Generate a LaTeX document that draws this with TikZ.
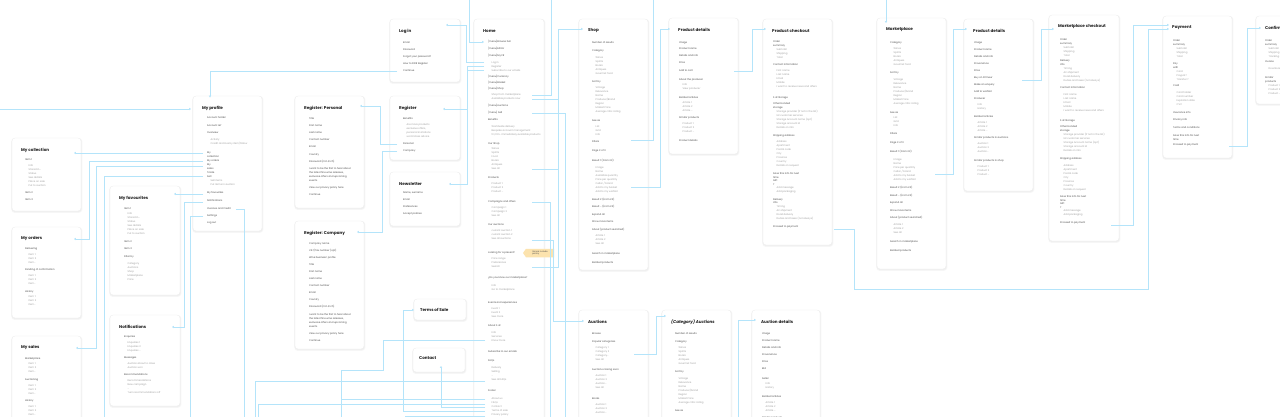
\documentclass[tikz,border=0pt]{standalone}
\usepackage{fontspec}
\setmainfont{Poppins}
\usetikzlibrary{arrows.meta,shapes.symbols}
\definecolor{cline}{HTML}{B4E4FA}
\definecolor{notey}{HTML}{FCE3AE}
\tikzset{
  cardbox/.style={draw=black!7, fill=white, rounded corners=3pt, line width=0.3pt, inner sep=0pt, outer sep=0pt},
  ttl/.style={anchor=west, inner sep=0pt, font=\fontsize{4.1}{5}\selectfont\bfseries, text=black!88},
  itma/.style={anchor=west, inner sep=0pt, font=\fontsize{2.45}{3}\selectfont, text=black!72},
  itmb/.style={itma, xshift=3.5pt, text=black!38},
  conn/.style={draw=cline, line width=0.7pt, -{Triangle[length=1.9pt,width=2.1pt]}},
  connplain/.style={draw=cline, line width=0.7pt},
  notebox/.style={fill=notey, shape=signal, signal to=west, signal pointer angle=110, minimum width=31pt, minimum height=8.5pt, inner sep=0.6pt, align=left, font=\fontsize{2.1}{2.5}\selectfont, text=black!70}
}
\newcommand\cardbox[5]{%
  \fill[black!3, rounded corners=3.5pt] (#2-0.7,#3+0.1) rectangle (#4+1.3,#5+1.9);
  \fill[black!6, rounded corners=3pt] (#2-0.3,#3+0.4) rectangle (#4+0.7,#5+1.0);
  \node[cardbox, anchor=north west, minimum width={(#4-#2)*1pt}, minimum height={(#5-#3)*1pt}] (#1) at (#2,#3) {};}
\newcommand\card[6]{\cardbox{#1}{#2}{#3}{#4}{#5}\node[ttl] (#1T) at (#2+9,#3+12) {#6};}
\newcommand\items[3]{\foreach \k/\yy/\t in {#3}{\node[itm\k] (#1-\yy) at (#2,\yy) {\t};}}
\begin{document}
\begin{tikzpicture}[x=1pt,y=-1pt]
\fill[white] (0,0) rectangle (1280,417);
\useasboundingbox (0,0) rectangle (1280,417);
\clip (0,0) rectangle (1280,417);

% ---------------- cards ----------------
\card{login}{390}{19}{460}{82}{Log in}
\items{login}{403}{a/43/Email, a/50/Password, a/57/Forgot your password?, a/64/How to FWR Register, a/71/Continue}

\card{home}{474}{19}{544}{440}{Home}
\items{home}{488}{a/42/{[menu]Browse bar}, a/49/{[menu]Editor}, a/56/{[menu]My FR}, b/62.5/Log in, b/66.5/Register, b/70.5/Subscribe to our emails,
 a/77/{[menu]Currency}, a/83/{[menu]Basket}, a/89/{[menu]Shop}, b/95/Shop from marketplace, b/99/Available products now,
 a/106/{[menu]Auctions}, a/113/{[menu] Sell}, a/120/Benefits, b/127/Worldwide delivery, b/131/Bespoke account management, b/135/{10,000+ immediately available products},
 a/144/Our Shop, b/149/Wines, b/153/Spirits, b/157/Food, b/161/Books, b/165/Antiques, b/169/See all,
 a/178/Products, b/184/Product 1, b/188/Product 2, b/192/Product \ldots,
 a/202/Campaigns and offers, b/208/Campaign 1, b/212/Campaign 2, b/216/See all,
 a/225/Our auctions, b/231/current auction 1, b/235/current auction 2, b/239/See all auctions,
 a/253/Looking for a present?, b/259/Price range, b/263/Preferences, b/267/Search,
 a/278/¿Do you know our marketplace?, b/286/Info, b/290/Go to marketplace,
 a/303/Events and experiences, b/309/Event 1, b/313/Event 2, b/317/See more,
 a/326/About F+R, b/333/Info, b/337/Services, b/341/Know more,
 a/352/Subscribe to our emails, a/361/FAQs, b/368/Delivery, b/372/Selling, b/376/\ldots, b/380/See all FAQs,
 a/391/Footer, b/399/About us, b/403/FAQs, b/407/Contact, b/411/Terms of sale, b/415/Privacy policy}
\node[notebox] (note) at (540,253) {Gonna include\\pantry};

\card{shop}{579}{19}{648}{270}{Shop}
\items{shop}{592}{a/43/Number of results, a/51/Category, b/58/Wines, b/62/Spirits, b/66/Books, b/70/Antiques, b/74/Gourmet food,
 a/82/Sort by, b/88/Vintage, b/92/Relevance, b/96/Name, b/100/{Producer/Brand}, b/104/Region, b/108/Market Price, b/112/Average critic rating,
 a/121/See as, b/127/List, b/131/Grid, b/135/Info, a/142/Filters, a/151/Page X of X,
 a/161/Result 1 (From £X), b/168/Image, b/172/Name, b/176/Available quantity, b/180/Price per quantity, b/184/{Cellar / brand}, b/188/Add to my basket, b/192/Add to my wishlist,
 a/200/Result 2 (From £X), a/207/Result \ldots{} (From £X), a/215/Expand all, a/222/Show more items,
 a/230/About (product searched), b/236/Article 1, b/240/Article 2, b/244/See all,
 a/254/Search in marketplace, a/263/Related products}

\card{pdone}{669}{18}{738}{154}{Product details}
\items{pdone}{679}{a/43/Image, a/49/Product name, a/56/Details and info, a/63/Price, a/71/Add to cart,
 a/80/About the producer, b/85/Info, b/89/View producer, a/98/Related articles, b/103/Article 1, b/107/Article 2, b/111/Article \ldots,
 a/118/Similar products, b/124/Product 1, b/128/Product 2, b/132/Product \ldots, a/141/Product details}

\card{pco}{763}{19}{832}{245}{Product checkout}
\items{pco}{773}{a/42/Order, a/46/summary, b/49.5/Subtotal, b/53.5/Shipping, b/57.5/Total,
 a/65/Contact information, b/71/First name, b/75/Last name, b/79/Email, b/83/Mobile, b/87/I want to receive news and offers,
 a/98/F+R Storage, a/104/Other bonded, a/108/storage, b/111.5/Storage provider (if not in the list), b/115.5/UK customer services, b/119.5/Storage Account name (opt), b/123.5/Storage account id, b/127.5/Details on info,
 a/136/Shipping address, b/142/Address, b/146/Apartment, b/150/Postal code, b/154/City, b/158/Province, b/162/Country, b/166/Details on request,
 a/174/Save this info for next, a/177.5/time, a/181/Gift, a/184.5/?, b/188/Add message, b/192/Add packaging,
 a/199.5/Delivery, a/203/info, b/206.5/Timing, b/210.5/Air shipment, b/214.5/Road delivery, b/218.5/Duties and taxes (not always),
 a/227/Proceed to payment}

\card{mkt}{877}{18}{946}{269}{Marketplace}
\items{mkt}{890}{a/43/Category, b/49/Wines, b/53/Spirits, b/57/Books, b/61/Antiques, b/65/Gourmet food,
 a/73/Sort by, b/80/Vintage, b/84/Relevance, b/88/Name, b/92/{Producer/brand}, b/96/Region, b/100/Market Price, b/104/Average critic rating,
 a/113/See as, b/118/List, b/122/Grid, b/126/Info, a/134/Filters, a/143/Page X of X,
 a/152/Result 1 (From £X), b/160/Image, b/164/Name, b/168/Price per quantity, b/172/{Cellar / brand}, b/176/Add to my basket, b/180/Add to my wishlist,
 a/188/Result 2 (From £X), a/196/Result \ldots{} (From £X), a/203/Expand all, a/211/Show more items,
 a/218/About (product searched), b/225/Article 1, b/229/Article 2, b/233/See all,
 a/242/Search in marketplace, a/251/Related products}

\card{pdtwo}{964}{19}{1033}{191}{Product details}
\items{pdtwo}{974}{a/43/Image, a/50/Product name, a/57/Details and info, a/64/Provenance, a/71/Price, a/78/Buy on Primeur, a/85/Make an enquiry, a/92/Add to wishlist,
 a/99/Producer, b/105/Info, b/109/History, a/117/Related articles, b/123/Article 1, b/127/Article 2, b/131/Article \ldots,
 a/138/Similar products in auctions, b/144/Auction 1, b/148/Auction 2, b/152/Auction\ldots,
 a/161/Similar products in shop, b/167/Product 1, b/171/Product 2, b/175/Product \ldots}

\card{mco}{1049}{15}{1119}{241}{Marketplace checkout}
\items{mco}{1060}{a/40/Order, a/44/summary, b/47.5/Subtotal, b/51.5/Shipping, b/55.5/Total,
 a/61/Delivery, a/65/info, b/68.5/Timing, b/72.5/Air shipment, b/76.5/Road delivery, b/80.5/Duties and taxes (not always),
 a/88/Contact information, b/95/First name, b/99/Last name, b/103/Email, b/107/Mobile, b/111/I want to receive news and offers,
 a/121/F+R Storage, a/127/Other bonded, a/131/storage, b/134.5/Storage provider (if not in the list), b/138.5/UK customer services, b/142.5/Storage Account name (opt), b/146.5/Storage account id, b/150.5/Details on info,
 a/159/Shipping address, b/166/Address, b/170/Apartment, b/174/Postal code, b/178/City, b/182/Province, b/186/Country, b/190/Details on request,
 a/197/Save this info for next, a/200.5/time, a/204/Gift, a/207.5/?, b/211/Add message, b/215/Add packaging,
 a/223/Proceed to payment}

\card{pay}{1163}{16}{1232}{158}{Payment}
\items{pay}{1173}{a/41/Order, a/45/summary, b/48.5/Subtotal, b/52.5/Shipping, b/56.5/Total,
 a/64/Pay, a/68/with, b/71.5/Card, b/75.5/Paypal ?, b/79.5/Transfer ?,
 a/86/Card, b/93/Card holder, b/97/Card number, b/101/Expiration date, b/105/CVC,
 a/113/Insurance info, a/120/Privacy info, a/128/Terms and conditions, a/136/Save this info for next, a/140/time, a/145/Proceed to payment}

\card{conf}{1256}{16}{1330}{104}{Confirmation}
\items{conf}{1265}{a/41/Order, a/45/summary, b/48.5/Subtotal, b/52.5/Shipping address, b/56.5/Tracking number,
 a/62/Invoice, b/69/Download, a/78/Similar, a/82/products, b/85.5/Product 1, b/89.5/Product 2, b/93.5/Product \ldots}

\card{auc}{579}{310}{648}{440}{Auctions}
\items{auc}{592}{a/334/Browse, a/342/Popular categories, b/348/Category 1, b/352/Category 2, b/356/Category\ldots, b/360/See all,
 a/370/Auctions closing soon, b/376/Auction 1, b/380/Auction 2, b/384/Auction\ldots, b/388/See all,
 a/399/Books, b/405/Auction 1, b/409/Auction 2, b/413/Auction\ldots}

\card{cauc}{662}{310}{731}{440}{\itshape (Category) Auctions}
\items{cauc}{675}{a/334/Number of results, a/342/Category, b/348/Wines, b/352/Spirits, b/356/Books, b/360/Antiques, b/364/Gourmet food,
 a/372/Sort by, b/379/Vintage, b/383/Relevance, b/387/Name, b/391/{Producer/brand}, b/395/Region, b/399/Market Price, b/403/Average critic rating,
 a/411/See as}

\card{aucd}{752}{310}{820}{440}{Auction details}
\items{aucd}{762}{a/334/Image, a/341/Product name, a/348/Details and info, a/355/Provenance, a/362/Price, a/369/Bid,
 a/379/Seller, b/384/Info, b/388/History, a/397/Related articles, b/403/Article 1, b/407/Article 2, b/411/Article \ldots, a/418/Similar products}

\card{prof}{193}{96}{262}{231}{My profile}
\items{prof}{207}{a/118/Account holder, a/126/Account ref, a/133/Overview, b/140/Activity, b/144/{Credit and loss by item/follow},
 a/153/My, a/157/collection, a/161/My orders, a/165/My, a/169/sales, a/173/Trade, a/176.5/Sell, b/181/Sell items, b/185/Put items in auction,
 a/193/My favourites, a/201/Notifications, a/209/Invoices and Credit, a/216/Settings, a/223/Log out}

\card{coll}{12}{138}{81}{211}{My collection}
\items{coll}{25}{a/160/Item 1, b/166/Info, b/170/Stored in\ldots, b/174/Status, b/178/See details, b/182/Place on sale, b/186/Put to auction, a/193/Item 2, a/200/Item 3}

\card{fav}{110}{186}{180}{295}{My favourites}
\items{fav}{124}{a/209/Item 1, b/214/Info, b/218/Stored in\ldots, b/222/Status, b/226/See details, b/230/Place on sale, b/234/Put to auction,
 a/242/Item 2, a/249/Item 3, a/257/Filter by, b/264/Category, b/268/Auctions, b/272/Shop, b/276/Marketplace, b/280/Price}

\card{ord}{12}{227}{81}{318}{My orders}
\items{ord}{25}{a/249/Delivering, b/255/Item 1, b/259/Item 2, b/263/Item\ldots, a/270/Pending of confirmation, b/276/Item 1, b/280/Item 2, b/284/Item\ldots,
 a/292/History, b/297/Item 1, b/301/Item 2, b/305/Item\ldots}

\card{sal}{12}{336}{81}{440}{My sales}
\items{sal}{25}{a/359/Marketplace, b/364/Item 1, b/368/Item 2, b/372/Item\ldots, a/380/Auctioning, b/386/Item 1, b/390/Item 2, b/394/Item\ldots,
 a/401/History, b/407/Item 1, b/411/Item 2, b/415/Item\ldots}

\card{noti}{110}{315}{180}{406}{Notifications}
\items{noti}{124}{a/337/Enquiries, b/343/Enquiries 1, b/347/Enquiries 2, b/351/Enquiries \ldots, a/358/Messages, b/364/Auction about to close, b/368/Auction won,
 a/375/Recommendations, b/381/Recommendations, b/385/New campaign, b/389/\ldots, b/393/Turn recommendations off}

\card{regp}{295}{96}{364}{208}{Register: Personal}
\items{regp}{309}{a/119/Title, a/126/First name, a/133/Last name, a/140/Contact number, a/147/Email, a/155/Country, a/162/Password (min 8 ch),
 a/169/I want to be the first to hear about, a/173/{the latest fine wine releases,}, a/177/exclusive offers and upcoming, a/181/events,
 a/188/View our privacy policy here, a/195/Continue}

\card{regc}{295}{221}{364}{349}{Register: Company}
\items{regc}{309}{a/244/Company name, a/251/{VAT/Tax number (opt)}, a/258/Wine business' profile, a/265/Title, a/272/First name, a/279/Last name,
 a/286/Contact number, a/293/Email, a/300/Country, a/307/Password (min 8 ch),
 a/315/I want to be the first to hear about, a/319/{the latest fine wine releases,}, a/323/exclusive offers and upcoming, a/327/events,
 a/334/View our privacy policy here, a/341/Continue}

\card{reg}{390}{96}{460}{160}{Register}
\items{reg}{403}{a/119/Benefits, b/125/Are more products, b/129/{exclusive offers,}, b/133/personal invitations, b/137/world class advice, a/144/Personal, a/151/Company}

\card{news}{390}{172}{460}{226}{Newsletter}
\items{news}{403}{a/193/{Name, surname}, a/200/Email, a/207/Preferences, a/214/Accept policies}

\cardbox{terms}{414}{299}{466}{320}
\node[ttl] (termsT) at (420,310) {Terms of Sale};
\cardbox{cont}{413}{348}{465}{372}
\node[ttl] (contT) at (419,358) {Contact};

% ---------------- connector end points ----------------
\coordinate (topA) at (469.5,-1);
\coordinate (topB) at (551,-1);
\coordinate (topC) at (653,-1);
\coordinate (topD) at (886,-1);
\coordinate (leftIn) at (-1,109);
\coordinate (botA) at (104,418);
\coordinate (botB) at (190,418);
\coordinate (botC) at (244,418);
\coordinate (botD) at (255,418);
\coordinate (botE) at (258,418);
\coordinate (botF) at (341,418);
\coordinate (botG) at (405,418);
\coordinate (botH) at (550,418);
\coordinate (botI) at (565,418);
\coordinate (botJ) at (738,418);

% ---------------- connectors ----------------
\draw[conn] (397,71) -- (210,71) -- (210,97.5);
\draw[conn] (leftIn) -- (191,109);
\draw[conn] (203,153) -- (74,153);
\draw[conn] (203,161) -- (89,161) -- (89,239) -- (74,239);
\draw[conn] (203,166) -- (96,166) -- (96,348) -- (76,348);
\draw[connplain] (203,176.5) -- (104,176.5) -- (botA);
\draw[conn] (203,194) -- (174,194);
\draw[conn] (203,202) -- (184,202) -- (184,327) -- (172,327);
\draw[connplain] (236,209) -- (244,209) -- (botC);
\draw[connplain] (203,216) -- (190,216) -- (botB);

\draw[conn] (397,144) -- (380,144) -- (380,106) -- (360,106);
\draw[conn] (397,151) -- (382,151) -- (382,232) -- (357,232);

\draw[conn] (topA) -- (469.5,42) -- (484,42);
\draw[conn] (484,62.5) -- (466,62.5) -- (466,25) -- (446,25);
\draw[conn] (484,66.5) -- (467.5,66.5) -- (467.5,109) -- (443,109);
\draw[conn] (484,70.5) -- (467.5,70.5) -- (467.5,184) -- (449,184);

\draw[connplain] (532,95) -- (551,95) -- (topB);
\draw[conn] (532,99) -- (558,99) -- (558,29) -- (583,29);
\draw[connplain] (532,169) -- (558,169) -- (558,99);
\draw[connplain] (532,267) -- (558,267) -- (558,169);
\draw[connplain] (532,113.5) -- (565,113.5) -- (botI);
\draw[connplain] (532,202) -- (550,202) -- (botH);
\draw[conn] (532,240) -- (553,240) -- (553,321) -- (584,321);

\draw[connplain] (485,340) -- (383,340) -- (383,370) -- (341,370) -- (botF);
\draw[connplain] (485,381) -- (255,381) -- (botD);
\draw[connplain] (485,399) -- (341,399);
\draw[connplain] (485,404) -- (258,404) -- (botE);
\draw[conn] (485,407) -- (441,407) -- (441,366);
\draw[conn] (485,411) -- (403,411) -- (403,310) -- (414,310);
\draw[connplain] (485,416) -- (405,416) -- (botG);

\draw[connplain] (631,140) -- (653,140) -- (topC);
\draw[conn] (631,187) -- (660,187) -- (660,29) -- (670,29);
\draw[conn] (734,71) -- (752,71) -- (752,29) -- (766,29);
\draw[conn] (834,229) -- (854,229) -- (854,289) -- (1148,289) -- (1148,29) -- (1169,29);
\draw[conn] (topD) -- (886,23);
\draw[conn] (935,174) -- (953,174) -- (953,29) -- (967,29);
\draw[conn] (1022,80) -- (1041,80) -- (1041,29) -- (1054,29);
\draw[conn] (1111,225) -- (1133,225) -- (1133,25) -- (1169,25);
\draw[conn] (1229,146) -- (1247,146) -- (1247,28) -- (1261,28);
\draw[conn] (634,354) -- (656,354) -- (656,316) -- (666,316);
\draw[conn] (botJ) -- (738,320) -- (756,320);
\end{tikzpicture}
\end{document}
